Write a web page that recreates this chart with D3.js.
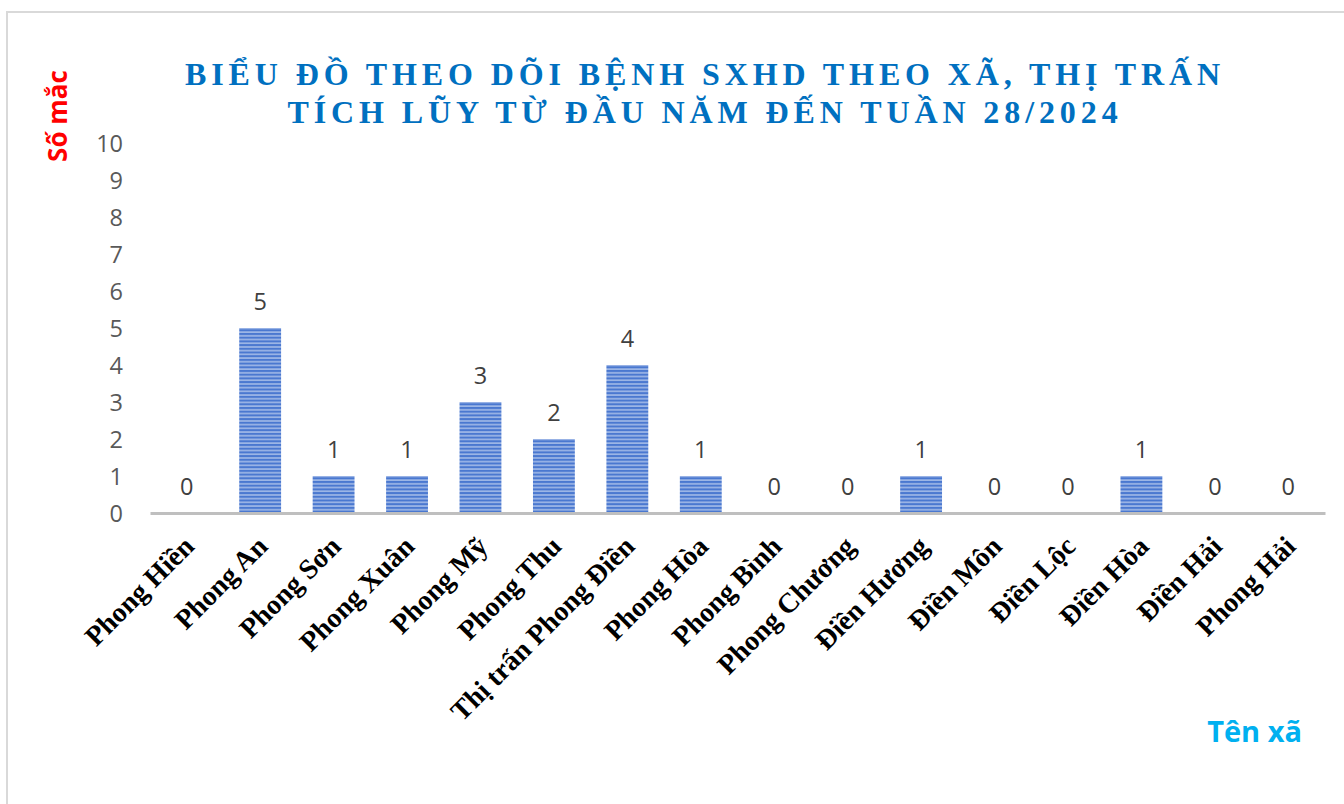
<!DOCTYPE html>
<html><head><meta charset="utf-8">
<script src="https://cdn.jsdelivr.net/npm/d3@7"></script>
<style>html,body{margin:0;padding:0;background:#fff;}svg{display:block;}</style>
</head><body>
<svg id="c" width="1344" height="804"></svg>
<script>
const categories = ["Phong Hiền","Phong An","Phong Sơn","Phong Xuân","Phong Mỹ","Phong Thu","Thị trấn Phong Điền","Phong Hòa","Phong Bình","Phong Chương","Điền Hương","Điền Môn","Điền Lộc","Điền Hòa","Điền Hải","Phong Hải"];
const cases = [0,5,1,1,3,2,4,1,0,0,1,0,0,1,0,0];
const yTicks = [0,1,2,3,4,5,6,7,8,9,10];
const titleLines = ["BIỂU ĐỒ THEO DÕI BỆNH SXHD THEO XÃ, THỊ TRẤN","TÍCH LŨY TỪ ĐẦU NĂM ĐẾN TUẦN 28/2024"];
const yLabel = "Số mắc";
const xLabel = "Tên xã";

const svg = d3.select("#c");
// frame
svg.append("path").attr("d","M7,804 V12 H1344").attr("fill","none").attr("stroke","#d9d9d9").attr("stroke-width",2);

const defs = svg.append("defs");
const pat = defs.append("pattern").attr("id","stripes").attr("patternUnits","userSpaceOnUse").attr("width",8).attr("height",3.7);
pat.append("rect").attr("width",8).attr("height",3.7).attr("fill","#9db6e6");
pat.append("rect").attr("y",0).attr("width",8).attr("height",2).attr("fill","#4a78d0");

const x = d3.scaleBand().domain(categories).range([150,1325]).paddingInner(0.43).paddingOuter(0.215);
const y = d3.scaleLinear().domain([0,10]).range([513,143]);

// y axis labels
const ya = svg.append("g").attr("transform","translate(123,0)")
  .call(d3.axisLeft(y).tickValues(yTicks).tickSize(0).tickPadding(0).tickFormat(d3.format("d")));
ya.select(".domain").remove();
ya.selectAll("text").attr("font-family","'Open Sans', sans-serif").attr("font-size",23.5).attr("fill","#595959").attr("dy","0.35em");

// bars
svg.append("g").selectAll("rect").data(categories).join("rect")
  .attr("x",d=>x(d)).attr("width",x.bandwidth())
  .attr("y",(d,i)=>y(cases[i])).attr("height",(d,i)=>y(0)-y(cases[i]))
  .attr("fill","url(#stripes)");

// x axis
const xa = svg.append("g").attr("transform","translate(0,513)")
  .call(d3.axisBottom(x).tickSize(0).tickPadding(0));
xa.select(".domain").attr("stroke","#bfbfbf").attr("stroke-width",3);
xa.selectAll("text")
  .attr("font-family","'Liberation Serif', 'Times New Roman', serif").attr("font-weight","bold").attr("font-size",28).attr("fill","#000")
  .attr("text-anchor","end").attr("dy",0).attr("y",0)
  .attr("transform","translate(9,35) rotate(-45)");

// data labels
svg.append("g").selectAll("text").data(categories).join("text")
  .attr("x",d=>x(d)+x.bandwidth()/2).attr("y",(d,i)=>y(cases[i])-18)
  .attr("text-anchor","middle").attr("font-family","'Open Sans', sans-serif").attr("font-size",23.5).attr("fill","#404040")
  .text((d,i)=>cases[i]);

// title
svg.append("g").selectAll("text").data(titleLines).join("text")
  .attr("x",705).attr("y",(d,i)=>85+i*37.5).attr("text-anchor","middle")
  .attr("font-family","'Liberation Serif', 'Times New Roman', serif").attr("font-weight","bold").attr("font-size",32)
  .attr("letter-spacing",4.9).attr("fill","#0070c0").text(d=>d);

// y label
svg.append("text").attr("transform","translate(67,116) rotate(-90)").attr("text-anchor","middle")
  .attr("font-family","'Open Sans', sans-serif").attr("font-weight","bold").attr("font-size",26).attr("fill","#ff0000").text(yLabel);

// x label
svg.append("text").attr("x",1302).attr("y",742).attr("text-anchor","end")
  .attr("font-family","'Open Sans', sans-serif").attr("font-weight","bold").attr("font-size",29).attr("fill","#00b0f0").text(xLabel);
</script>
</body></html>
